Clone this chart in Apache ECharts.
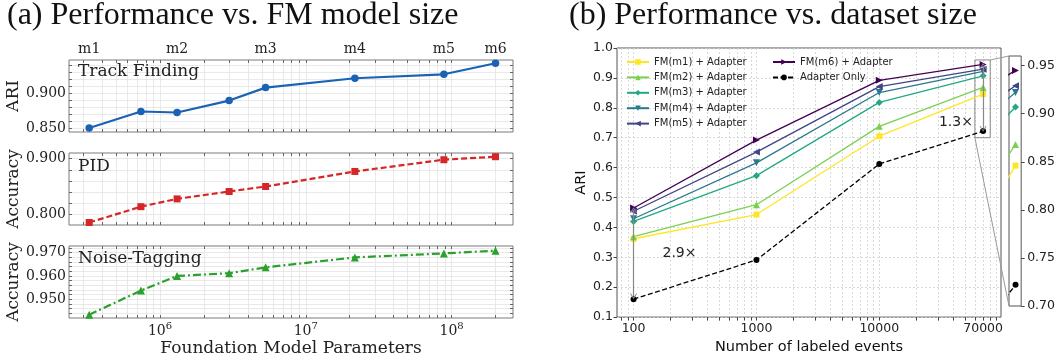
<!DOCTYPE html>
<html><head><meta charset="utf-8">
<script src="https://cdn.jsdelivr.net/npm/echarts@6/dist/echarts.min.js"></script>
<style>html,body{margin:0;padding:0;background:#fff}#c{width:1058px;height:360px}</style>
</head><body><div id="c"></div>
<script>
// ---------- Panel (a) data ----------
const modelParams = [3.27e5, 7.4e5, 1.31e6, 2.98e6, 5.3e6, 2.17e7, 8.85e7, 2.0e8];
const modelNames = ['m1', 'm2', 'm3', 'm4', 'm5', 'm6'];
const modelNameParams = [3.27e5, 1.31e6, 5.3e6, 2.17e7, 8.85e7, 2.0e8];
const trackARI = [0.850, 0.8737, 0.8723, 0.8894, 0.908, 0.9214, 0.9271, 0.9429];
const pidAcc = [0.7852, 0.8137, 0.8277, 0.841, 0.850, 0.8771, 0.8982, 0.9036];
const noiseAcc = [0.9433, 0.9537, 0.960, 0.9612, 0.9637, 0.968, 0.9697, 0.9709];
const paramTicks = [3e5,4e5,5e5,6e5,7e5,8e5,9e5,1e6,2e6,3e6,4e6,5e6,6e6,7e6,8e6,9e6,1e7,2e7,3e7,4e7,5e7,6e7,7e7,8e7,9e7,1e8,2e8];
const paramLabels = [1e6, 1e7, 1e8];
const paramLabelExp = ['6', '7', '8'];
const trackTicks = [0.85,0.86,0.87,0.88,0.89,0.90,0.91,0.92,0.93,0.94];
const trackLabels = [0.85, 0.90];
const pidTicks = [0.80,0.82,0.84,0.86,0.88,0.90];
const pidLabels = [0.80, 0.90];
const noiseTicks = [0.944,0.946,0.948,0.950,0.952,0.954,0.956,0.958,0.960,0.962,0.964,0.966,0.968,0.970,0.972];
const noiseLabels = [0.95, 0.96, 0.97];
const titleA = '(a) Performance vs. FM model size';
const titleB = '(b) Performance vs. dataset size';
const panelNames = ['Track Finding', 'PID', 'Noise-Tagging'];

// ---------- Panel (b) data ----------
const eventCounts = [100, 1000, 10000, 70000];
const seriesNames = ['FM(m1) + Adapter','FM(m2) + Adapter','FM(m3) + Adapter','FM(m4) + Adapter','FM(m5) + Adapter','FM(m6) + Adapter','Adapter Only'];
const ariM1 = [0.362, 0.443, 0.705, 0.846];
const ariM2 = [0.369, 0.476, 0.738, 0.868];
const ariM3 = [0.420, 0.573, 0.818, 0.907];
const ariM4 = [0.429, 0.616, 0.851, 0.922];
const ariM5 = [0.454, 0.652, 0.871, 0.929];
const ariM6 = [0.465, 0.692, 0.892, 0.945];
const ariAdapter = [0.160, 0.291, 0.612, 0.722];
const eventTicks = [80,90,100,200,300,400,500,600,700,800,900,1000,2000,3000,4000,5000,6000,7000,8000,9000,10000,20000,30000,40000,50000,60000,70000,80000,90000];
const eventLabels = [100, 1000, 10000, 70000];
const insetYLabels = [0.70, 0.75, 0.80, 0.85, 0.90, 0.95];
const insetXRange = [60000, 80000];
const insetYRange = [0.70, 0.96];
const gainText = ['2.9×', '1.3×'];

// ---------- styles ----------
const SERIF = 'DejaVu Serif', SANS = 'DejaVu Sans';
const viridis = ['#fde725', '#7ad151', '#22a884', '#2a788e', '#414487', '#440154', '#000000'];
const symbols = ['rect', 'triangle', 'diamond', 'triangle', 'triangle', 'triangle', 'circle'];
const rotations = [0, 0, 0, 180, 90, -90, 0];
const symSizes = [6, 7, 7, 7, 7, 7, 6];
const rightData = [ariM1, ariM2, ariM3, ariM4, ariM5, ariM6, ariAdapter];

const leftGrid = {left: 69, width: 444, height: 72, show: true, borderColor: '#7a7a7a', borderWidth: 1};
const grids = [
  Object.assign({top: 60}, leftGrid),
  Object.assign({top: 153}, leftGrid),
  Object.assign({top: 246}, leftGrid),
  {left: 617, top: 48, width: 384, height: 276, show: true, borderColor: '#555', borderWidth: 1},
  {left: 1009, top: 56, width: 15.5, height: 250, show: true, borderColor: '#555', borderWidth: 1}
];
const xMinL = 2.377e5, xMaxL = 2.636e8;
const gridLine = {show: true, lineStyle: {color: '#e3e3e3', width: 0.8}};
function leftX(gi, pos, extra) {
  return Object.assign({
    type: 'log', gridIndex: gi, position: pos, min: xMinL, max: xMaxL,
    axisLine: {show: false},
    axisTick: {show: true, inside: true, length: 3, customValues: paramTicks, lineStyle: {color: '#666'}},
    axisLabel: {show: false},
    splitLine: pos === 'bottom' ? gridLine : {show: false}
  }, extra || {});
}
const nearestIdx = (v, arr) => {
  let b = 0, d = Infinity;
  arr.forEach((a, i) => { const dd = Math.abs(Math.log10(v) - Math.log10(a)); if (dd < d) { d = dd; b = i; } });
  return b;
};
const xAxes = [
  leftX(0, 'bottom'),
  leftX(0, 'top', {axisLabel: {show: true, customValues: modelNameParams, margin: 4,
    formatter: v => modelNames[nearestIdx(v, modelNameParams)], fontFamily: SERIF, fontSize: 14, color: '#222'}}),
  leftX(1, 'bottom'),
  leftX(1, 'top'),
  leftX(2, 'bottom', {
    name: 'Foundation Model Parameters', nameLocation: 'middle', nameGap: 22,
    nameTextStyle: {fontFamily: SERIF, fontSize: 17, color: '#222'},
    axisLabel: {show: true, customValues: paramLabels, margin: 3,
      formatter: v => '{b|10}{s|' + paramLabelExp[nearestIdx(v, paramLabels)] + '}',
      rich: {b: {fontFamily: SERIF, fontSize: 14, color: '#222', lineHeight: 17, verticalAlign: 'bottom'},
             s: {fontFamily: SERIF, fontSize: 10, color: '#222', lineHeight: 10, verticalAlign: 'top'}}}
  }),
  leftX(2, 'top'),
  {
    type: 'log', gridIndex: 3, min: 73.3, max: 97900,
    name: 'Number of labeled events', nameLocation: 'middle', nameGap: 16,
    nameTextStyle: {fontFamily: SANS, fontSize: 14.5, color: '#111'},
    axisLine: {show: false},
    axisTick: {show: true, length: 3.5, customValues: eventTicks, lineStyle: {color: '#444'}},
    axisLabel: {customValues: eventLabels, formatter: v => String(Math.round(v)), margin: 5, fontFamily: SANS, fontSize: 12.5, color: '#222'},
    splitLine: {show: true, lineStyle: {color: '#d0d0d0', width: 0.8, type: [2, 2]}}
  },
  {
    type: 'log', gridIndex: 4, min: insetXRange[0], max: insetXRange[1],
    axisLine: {show: false}, axisTick: {show: false}, axisLabel: {show: false}, splitLine: {show: false}
  }
];
function leftY(gi, pos, vmin, vmax, ticks, labels, name) {
  const ax = {
    type: 'value', gridIndex: gi, position: pos, min: vmin, max: vmax,
    axisLine: {show: false},
    axisTick: {show: true, inside: true, length: 3, customValues: ticks, lineStyle: {color: '#666'}},
    axisLabel: {show: false},
    splitLine: pos === 'left' ? gridLine : {show: false}
  };
  if (pos === 'left') {
    ax.axisLabel = {show: true, customValues: labels, formatter: v => v.toFixed(3), margin: 3, fontFamily: SERIF, fontSize: 14, color: '#222'};
    ax.name = name; ax.nameLocation = 'middle'; ax.nameGap = 47;
    ax.nameTextStyle = {fontFamily: SERIF, fontSize: 17, color: '#222'};
  }
  return ax;
}
const yAxes = [
  leftY(0, 'left', 0.8443, 0.9476, trackTicks, trackLabels, 'ARI'),
  leftY(0, 'right', 0.8443, 0.9476, trackTicks),
  leftY(1, 'left', 0.7807, 0.9103, pidTicks, pidLabels, 'Accuracy'),
  leftY(1, 'right', 0.7807, 0.9103, pidTicks),
  leftY(2, 'left', 0.9419, 0.9729, noiseTicks, noiseLabels, 'Accuracy'),
  leftY(2, 'right', 0.9419, 0.9729, noiseTicks),
  {
    type: 'value', gridIndex: 3, min: 0.1, max: 1.0, interval: 0.1,
    name: 'ARI', nameLocation: 'middle', nameGap: 27,
    nameTextStyle: {fontFamily: SANS, fontSize: 14.5, color: '#111'},
    axisLine: {show: false},
    axisTick: {show: true, length: 3.5, lineStyle: {color: '#444'}},
    axisLabel: {formatter: v => v.toFixed(1), margin: 4, fontFamily: SANS, fontSize: 12.5, color: '#222'},
    splitLine: {show: true, lineStyle: {color: '#d0d0d0', width: 0.8, type: [2, 2]}}
  },
  {
    type: 'value', gridIndex: 4, position: 'right', min: insetYRange[0], max: insetYRange[1],
    axisLine: {show: false},
    axisTick: {show: true, length: 3.5, customValues: insetYLabels, lineStyle: {color: '#444'}},
    axisLabel: {customValues: insetYLabels, formatter: v => v.toFixed(2), margin: 6, fontFamily: SANS, fontSize: 12.5, color: '#222'},
    splitLine: {show: false}
  }
];

const series = [];
const leftDefs = [
  {data: trackARI, color: '#1a62b4', symbol: 'circle', size: 7.5, type: 'solid'},
  {data: pidAcc, color: '#d62728', symbol: 'rect', size: 7, type: [6, 3]},
  {data: noiseAcc, color: '#2ca02c', symbol: 'triangle', size: 8, type: [8, 3, 2, 3]}
];
leftDefs.forEach((d, i) => {
  series.push({
    type: 'line', xAxisIndex: i * 2, yAxisIndex: i * 2,
    data: modelParams.map((p, k) => [p, d.data[k]]),
    symbol: d.symbol, symbolSize: d.size, showSymbol: true,
    lineStyle: {color: d.color, width: 2.2, type: d.type},
    itemStyle: {color: d.color}, z: 3, silent: true, animation: false
  });
});
const arrowPath = 'path://M5,0 L10,9 L9,10 L5,2.6 L1,10 L0,9 Z';
[3, 4].forEach(gi => {
  rightData.forEach((vals, i) => {
    const s = {
      type: 'line', name: seriesNames[i], xAxisIndex: gi === 3 ? 6 : 7, yAxisIndex: gi === 3 ? 6 : 7,
      data: eventCounts.map((e, k) => [e, vals[k]]),
      symbol: symbols[i], symbolSize: symSizes[i], symbolRotate: rotations[i], showSymbol: true,
      lineStyle: {color: viridis[i], width: 1.3, type: i === 6 ? [5, 2.5] : 'solid'},
      itemStyle: {color: viridis[i]}, z: 3, clip: true, silent: true, animation: false
    };
    if (gi === 3 && i === 6) {
      s.markLine = {
        silent: true, animation: false, symbol: [arrowPath, arrowPath], symbolSize: [7, 6],
        lineStyle: {color: '#888', width: 1.2, type: 'solid'}, label: {show: false},
        data: [
          [{coord: [eventCounts[0], ariAdapter[0] + 0.01]}, {coord: [eventCounts[0], ariM6[0] - 0.008]}],
          [{coord: [eventCounts[3], ariAdapter[3] + 0.008]}, {coord: [eventCounts[3], ariM6[3] - 0.005]}]
        ]
      };
      s.markPoint = {
        silent: true, animation: false, symbol: 'circle', symbolSize: 0,
        itemStyle: {color: 'transparent'},
        label: {show: true, position: 'right', distance: 0, formatter: '{b}', fontFamily: SANS, fontSize: 14, color: '#222'},
        data: [{name: gainText[0], coord: [172, 0.314]}, {name: gainText[1], coord: [30600, 0.751]}]
      };
      s.markArea = {
        silent: true, animation: false,
        itemStyle: {color: 'rgba(0,0,0,0)', borderColor: '#888', borderWidth: 1},
        data: [[{coord: [insetXRange[0], insetYRange[0]]}, {coord: [insetXRange[1], insetYRange[1]]}]]
      };
    }
    series.push(s);
  });
});

const titleStyle = {fontFamily: 'Liberation Serif', fontSize: 32, fontWeight: 'normal', color: '#111', lineHeight: 32};
const subStyle = {fontFamily: SERIF, fontSize: 17, fontWeight: 'normal', color: '#222', lineHeight: 17};
const legendBase = {
  orient: 'vertical', top: 56, itemWidth: 22, itemHeight: 7, itemGap: 3.4, padding: 0,
  selectedMode: false, textStyle: {fontFamily: SANS, fontSize: 10, color: '#222', lineHeight: 12}
};
const option = {
  animation: false,
  backgroundColor: '#fff',
  title: [
    {text: titleA, left: 7, top: 0, padding: 0, textStyle: titleStyle},
    {text: titleB, left: 569, top: 0, padding: 0, textStyle: titleStyle},
    {text: panelNames[0], left: 78, top: 63, padding: 0, textStyle: subStyle},
    {text: panelNames[1], left: 78, top: 158, padding: 0, textStyle: subStyle},
    {text: panelNames[2], left: 78, top: 250, padding: 0, textStyle: subStyle}
  ],
  legend: [
    Object.assign({left: 626, data: seriesNames.slice(0, 5)}, legendBase),
    Object.assign({left: 772, data: seriesNames.slice(5)}, legendBase)
  ],
  grid: grids, xAxis: xAxes, yAxis: yAxes, series: series
};
const chart = echarts.init(document.getElementById('c'), null, {renderer: 'canvas'});
chart.setOption(option);
// connector lines between the zoom rectangle and the inset, located through the axes
const rTR = chart.convertToPixel({gridIndex: 3}, [insetXRange[1], insetYRange[1]]);
const rBL = chart.convertToPixel({gridIndex: 3}, [insetXRange[0], insetYRange[0]]);
const iTL = chart.convertToPixel({gridIndex: 4}, [insetXRange[0], insetYRange[1]]);
const iBL = chart.convertToPixel({gridIndex: 4}, [insetXRange[0], insetYRange[0]]);
chart.setOption({graphic: [
  {type: 'line', shape: {x1: rTR[0], y1: rTR[1], x2: iTL[0], y2: iTL[1]}, style: {stroke: '#999', lineWidth: 1}, silent: true, z: 1},
  {type: 'line', shape: {x1: rBL[0], y1: rBL[1], x2: iBL[0], y2: iBL[1]}, style: {stroke: '#999', lineWidth: 1}, silent: true, z: 1}
]});
</script></body></html>
